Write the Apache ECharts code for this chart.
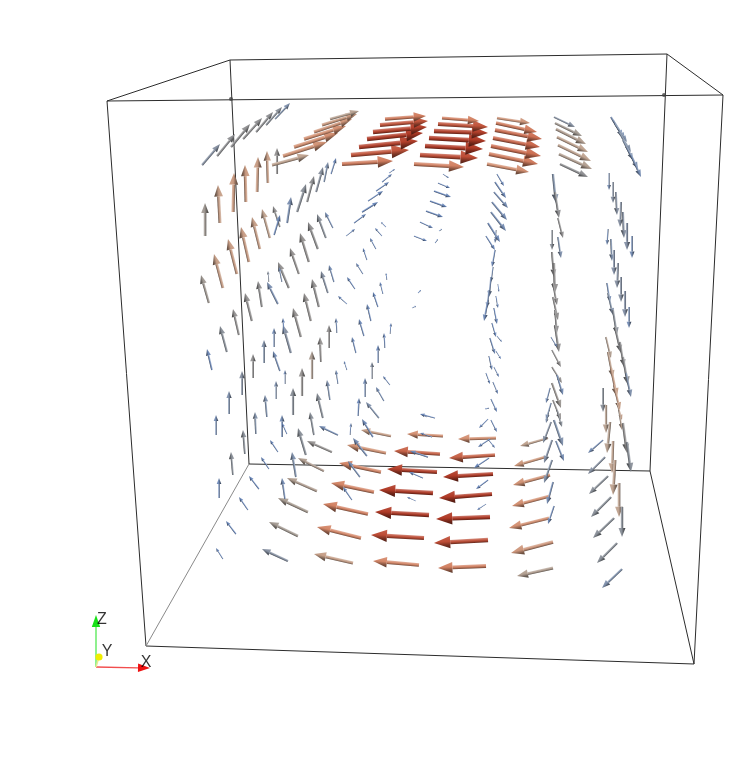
<!DOCTYPE html>
<html><head><meta charset="utf-8">
<style>html,body{margin:0;padding:0;background:#fff}#c{width:748px;height:763px}</style>
<script src="https://cdn.jsdelivr.net/npm/echarts@6/dist/echarts.min.js"></script>
</head><body><div id="c"></div>
<script>
// every glyph: [tailX, tailY, tipX, tipY, magnitude 0..1] (projected view units)
const topGreyRow=[[202,165,220,144,.08],[217,156,235,134,.12],[231,147,250,124,.13],[243,139,262,118,.13],[256,132,273,112,.12],[266,125,282,107,.1],[275,119,290,103,.05]];
const topTanRow=[[272,165,309,155,.33],[283,156,327,142,.48],[294,147,338,133,.5],[304,139,346,126,.5],[314,132,352,119,.46],[322,125,357,114,.42],[330,119,359,111,.3]];
const topRedColA=[[342,164,393,161,.6],[351,155,409,150,.8],[359,147,418,141,.95],[367,139,423,133,1],[373,132,427,127,.95],[380,125,428,121,.8],[385,119,426,116,.6]];
const topRedColB=[[414,164,464,167,.58],[420,155,478,158,.85],[425,146,483,149,1],[429,138,486,141,1],[434,131,488,133,.95],[438,124,488,127,.8],[442,118,479,121,.58]];
const topSalmonCol=[[487,164,529,172,.5],[489,154,538,164,.6],[491,146,541,156,.66],[493,138,540,147,.7],[495,130,542,139,.66],[496,123,537,132,.6],[497,118,530,123,.45]];
const topGreyCol=[[560,164,588,177,.12],[559,154,592,169,.28],[558,145,591,161,.33],[557,137,588,152,.33],[556,129,586,144,.28],[555,123,582,136,.22],[554,117,575,127,.08]];
const topBlueCol=[[611,117,623,137,.03],[613,120,625,139,.04],[615,124,627,142,.05],[619,132,631,152,.06],[623,140,633,160,.05],[627,148,638,169,.04],[631,155,641,177,.03]];
const leftWallA=[[205,236,205,203,.2],[220,223,218,185,.38],[233,212,234,173,.42],[246,202,245,165,.42],[257,192,258,157,.4],[268,183,267,151,.38],[277,174,277,148,.15]];
const leftWallB=[[209,303,201,275,.2],[223,288,214,254,.38],[237,274,228,239,.4],[249,262,241,227,.4],[260,249,252,217,.38],[270,238,262,209,.33],[280,227,273,206,.14],[274,235,280,215,.02],[287,223,291,197,.04],[297,212,306,184,.1],[307,202,314,176,.12],[316,192,323,167,.09],[324,182,328,162,.05],[331,174,336,158,.02]];
const leftWallC=[[333,228,325,212,.03],[326,238,317,214,.1],[318,249,308,222,.14],[309,262,300,233,.16],[299,274,290,248,.16],[289,288,278,262,.15],[282,282,279,267,.04],[278,304,267,282,.04],[269,282,268,271,.08],[262,307,258,281,.14],[252,321,245,293,.15],[239,335,233,309,.15],[227,352,220,326,.1],[212,370,207,349,.02]];
const leftWallD=[[328,293,321,271,.08],[334,282,329,265,.03],[319,307,312,279,.15],[311,321,304,293,.16],[301,337,293,308,.16],[291,353,283,325,.08],[280,371,273,351,.03],[253,378,253,354,.14],[264,363,264,340,.06],[274,347,274,328,.03],[284,333,283,318,.02],[242,395,242,371,.08],[229,414,229,391,.05]];
const midWallA=[[363,274,356,263,.02],[367,260,363,248,.01],[376,249,370,238,.01],[382,236,375,228,.01],[386,227,381,222,.005],[346,236,355,229,.01],[354,223,366,214,.01],[362,212,378,202,.01],[368,201,383,191,.01],[376,191,389,182,.01],[382,182,392,174,.01],[389,173,395,169,.005]];
const midWallB=[[355,289,347,277,.01],[347,304,338,296,.01],[329,348,329,325,.15],[337,333,336,318,.03],[321,362,320,337,.16],[312,379,312,351,.25],[302,396,302,368,.16],[293,415,293,388,.1],[276,399,276,381,.05],[285,384,285,370,.03],[267,417,265,395,.05],[323,418,317,393,.1],[330,400,327,380,.05],[338,384,336,370,.03],[347,370,344,361,.01]];
const midWallC=[[356,353,352,337,.02],[364,336,359,319,.02],[371,321,367,304,.02],[378,307,373,292,.01],[383,294,380,282,.01],[387,280,386,273,.005],[385,348,384,333,.02],[378,363,378,345,.02],[372,379,372,362,.08],[365,397,365,378,.03],[358,416,359,398,.02],[390,385,383,376,.01],[384,401,376,387,.03],[379,418,366,402,.05],[390,334,391,323,.005],[412,308,416,306,.002],[418,293,421,290,.002]];
const ceilingSmall=[[443,174,449,178,.005],[438,183,450,188,.01],[434,191,451,197,.01],[430,201,447,207,.01],[426,211,443,217,.01],[420,222,433,228,.01],[414,236,427,241,.01],[439,231,442,229,.002],[435,243,438,239,.002]];
const blueColTop=[[497,174,504,186,.01],[495,182,506,198,.02],[494,192,508,208,.03],[492,202,507,220,.03],[491,212,506,231,.03],[488,223,500,242,.02],[486,236,495,250,.01],[496,230,495,243,.03]];
const blueColMid=[[495,250,492,267,.02],[493,267,491,282,.03],[491,277,489,297,.03],[489,290,487,308,.03],[488,300,484,321,.02],[498,284,499,292,.005],[496,296,498,308,.01],[494,308,497,324,.01],[492,323,496,337,.01],[497,336,502,342,.005],[490,338,495,354,.02],[496,351,501,359,.005],[489,356,492,370,.02],[494,367,499,377,.01],[486,373,490,384,.01],[493,382,498,394,.02],[491,399,497,412,.01],[489,408,485,409,.005]];
const blueColLow=[[488,419,479,428,.01],[491,420,497,432,.01],[490,439,478,447,.01],[488,439,495,448,.01],[489,458,474,468,.01],[488,480,476,489,.005],[486,504,477,510,.003]];
const greyColA=[[553,174,556,203,.06],[555,192,559,218,.12],[558,218,563,238,.14],[552,230,552,250,.1],[558,237,561,258,.05],[552,252,554,277,.14],[554,263,555,293,.15],[553,283,557,305,.15],[553,297,558,320,.15],[555,310,557,333,.14],[555,325,559,352,.14]];
const greyColB=[[552,350,561,367,.15],[552,367,562,383,.16],[552,383,561,408,.18],[553,400,561,420,.16],[551,337,557,347,.02],[557,375,563,395,.03],[550,388,546,403,.03],[551,403,546,420,.04],[557,410,562,427,.1],[549,410,546,423,.05],[554,420,563,446,.05],[551,422,543,443,.08],[556,441,564,461,.03],[552,440,544,463,.07],[552,460,544,483,.06],[553,482,547,504,.03],[554,506,548,524,.02]];
const floorTanCol=[[548,438,520,446,.33],[545,457,514,466,.44],[550,475,513,485,.48],[550,496,512,506,.5],[549,518,509,528,.5],[553,542,511,553,.45],[553,568,517,576,.28]];
const floorRedColA=[[496,438,458,439,.5],[495,455,449,458,.72],[493,474,443,477,1],[492,494,439,498,1],[490,517,436,519,1],[488,540,434,543,.85],[486,566,438,568,.58]];
const floorRedColB=[[443,436,407,434,.5],[440,454,394,451,.72],[437,472,387,469,.95],[433,493,379,490,1],[429,515,375,512,1],[424,538,371,535,.85],[419,565,373,561,.55]];
const floorSalmonCol=[[391,436,361,430,.38],[386,453,347,445,.48],[381,472,339,463,.55],[374,492,331,483,.56],[368,514,323,504,.58],[361,538,317,527,.55],[353,563,314,554,.38]];
const floorGreyCol=[[338,435,319,426,.03],[332,452,307,441,.16],[324,471,298,458,.27],[317,491,287,478,.27],[308,512,278,498,.24],[298,536,269,522,.22],[288,561,262,549,.08]];
const overlayBlue=[[350,435,351,423,.02],[373,437,362,419,.02],[367,456,353,438,.03],[360,477,348,461,.03],[352,500,343,487,.01],[428,457,410,451,.02],[423,478,409,472,.01],[416,501,407,497,.005],[427,417,421,414,.01],[435,418,420,414,.01],[432,437,420,433,.02]];
const floorBlueLeft=[[216,435,216,415,.03],[245,454,243,430,.1],[233,475,231,452,.1],[219,498,219,478,.02],[256,434,255,412,.06],[282,437,282,415,.03],[287,434,282,423,.005],[278,452,270,440,.01],[269,469,261,457,.01],[259,489,249,476,.01],[248,510,239,497,.01],[236,534,226,521,.01],[223,559,216,548,.01],[314,435,310,412,.1],[306,455,298,428,.1],[296,477,292,452,.05],[285,499,282,478,.03]];
const rightColA=[[609,173,609,190,.04],[613,182,613,203,.08],[616,192,617,215,.08],[621,202,620,227,.08],[623,212,624,238,.08],[627,223,627,250,.07],[632,236,632,258,.03],[608,229,607,245,.03],[611,239,612,261,.05],[614,250,614,275,.07],[618,263,617,288,.08],[621,277,621,302,.08],[625,291,625,317,.07],[629,307,629,328,.03]];
const rightColB=[[607,283,610,302,.03],[608,293,613,315,.06],[613,310,617,335,.1],[615,327,621,353,.12],[620,342,624,367,.13],[623,357,628,385,.12],[626,373,631,397,.05]];
const rightColTan=[[606,337,611,358,.28],[608,352,613,378,.33],[611,368,617,397,.38],[614,385,620,410,.38],[617,403,622,420,.36],[603,388,603,412,.1],[606,405,606,433,.3],[610,422,607,453,.3],[613,441,612,473,.33],[615,460,613,495,.33],[619,483,619,517,.33],[622,507,622,537,.1],[619,410,622,430,.3],[623,423,627,453,.15],[627,442,631,472,.1]];
const floorGreyDiag=[[603,440,588,453,.03],[605,457,588,474,.08],[608,476,589,494,.1],[611,497,591,517,.1],[614,518,593,538,.1],[617,543,597,563,.1],[622,569,602,588,.05]];
const frameEdges=[[107,101,723,95],[723,95,694,664],[694,664,146,646],[146,646,107,101],[230,60,667,54],[667,54,650,471],[650,471,249,464],[249,464,230,60],[107,101,230,60],[723,95,667,54],[694,664,650,471]];
const frameEdgesFaint=[[146,646,249,464]];
const frameKnots=[[231,99],[664,95]];
const axisTriad=[[96,667,96,615,'#17e017'],[96,667,150,668,'#ee1111'],[96,667,99,657,'#e6e64d']];
const triadLabels=[['Z',102,620],['Y',107,652],['X',146,663]];

const glyphs=[].concat(leftWallD,leftWallC,midWallB,midWallC,midWallA,leftWallB,leftWallA,ceilingSmall,topGreyRow,topTanRow,topBlueCol,topGreyCol,topSalmonCol,topRedColB,topRedColA,
  rightColA,rightColB,greyColA,blueColTop,blueColMid,floorGreyCol,floorSalmonCol,floorRedColB,floorRedColA,floorTanCol,floorGreyDiag,rightColTan,greyColB,blueColLow,overlayBlue,floorBlueLeft);

const ramp=['#6484bc','#8091ac','#8e8f92','#a39a92','#bfa390','#c99a80','#d68e6e','#cc6f52','#bf5038','#b03a26'];
const rampAt=[0,.05,.12,.22,.33,.42,.52,.66,.82,1];
function colorOf(m){
  for(let i=1;i<rampAt.length;i++){ if(m<=rampAt[i]) return echarts.color.lerp((m-rampAt[i-1])/(rampAt[i]-rampAt[i-1]),[ramp[i-1],ramp[i]]); }
  return ramp[ramp.length-1];
}
function shade(c,k){return k>=0?echarts.color.lerp(k,[c,'#ffffff']):echarts.color.lerp(-k,[c,'#000000']);}
function renderGlyph(params,api){
  const a=api.coord([api.value(0),api.value(1)]), b=api.coord([api.value(2),api.value(3)]), m=api.value(4);
  const dx=b[0]-a[0], dy=b[1]-a[1], L=Math.hypot(dx,dy)||1, ux=dx/L, uy=dy/L;
  let nx=-uy, ny=ux; if(ny>0||(ny===0&&nx>0)){nx=-nx;ny=-ny;}
  const sw=Math.max(.4,L*.04), hw=Math.max(.9,L*.115), hl=L*.3;
  const n=[a[0]+ux*(L-hl),a[1]+uy*(L-hl)], c=colorOf(m);
  const grad=(w,s)=>new echarts.graphic.LinearGradient(n[0]+nx*w,n[1]+ny*w,n[0]-nx*w,n[1]-ny*w,s,true);
  const shaftStops=[{offset:0,color:shade(c,.35)},{offset:.45,color:shade(c,.05)},{offset:.75,color:shade(c,-.2)},{offset:1,color:shade(c,-.5)}];
  const headStops=[{offset:0,color:shade(c,.12)},{offset:.45,color:c},{offset:.72,color:shade(c,-.35)},{offset:1,color:shade(c,-.6)}];
  const sa=[a[0]+nx*sw,a[1]+ny*sw], sb=[a[0]-nx*sw,a[1]-ny*sw], ea=[n[0]+nx*sw,n[1]+ny*sw], eb=[n[0]-nx*sw,n[1]-ny*sw];
  return {type:'group',children:[
    {type:'polygon',shape:{points:[sa,ea,eb,sb]},style:{fill:grad(sw,shaftStops)}},
    {type:'polygon',shape:{points:[[n[0]+nx*hw,n[1]+ny*hw],b,[n[0]-nx*hw,n[1]-ny*hw]]},style:{fill:grad(hw,headStops)}}
  ]};
}
function renderEdge(color,width){return function(params,api){
  const p=api.coord([api.value(0),api.value(1)]), q=api.coord([api.value(2),api.value(3)]);
  return {type:'line',shape:{x1:p[0],y1:p[1],x2:q[0],y2:q[1]},style:{stroke:color,lineWidth:width}};
};}
function renderTriad(params,api){
  const p=api.coord([api.value(0),api.value(1)]), q=api.coord([api.value(2),api.value(3)]);
  const col=axisTriad[params.dataIndex][4];
  const dx=q[0]-p[0],dy=q[1]-p[1],L=Math.hypot(dx,dy),ux=dx/L,uy=dy/L;
  if(L<20){
    return {type:'group',children:[
      {type:'line',shape:{x1:p[0],y1:p[1],x2:q[0],y2:q[1]},style:{stroke:'#e8e890',lineWidth:1.5}},
      {type:'circle',shape:{cx:q[0],cy:q[1],r:3.6},style:{fill:'#f0ee00'}}
    ]};
  }
  const hl=12,hw=4.2,n=[q[0]-ux*hl,q[1]-uy*hl];
  return {type:'group',children:[
    {type:'line',shape:{x1:p[0],y1:p[1],x2:n[0],y2:n[1]},style:{stroke:col,lineWidth:1.3,opacity:.75}},
    {type:'polygon',shape:{points:[[n[0]-uy*hw,n[1]+ux*hw],q,[n[0]+uy*hw,n[1]-ux*hw]]},style:{fill:col}}
  ]};
}
const chart=echarts.init(document.getElementById('c'),null,{renderer:'canvas'});
const base={type:'custom',silent:true,clip:false,animation:false};
chart.setOption({
  animation:false,backgroundColor:'#fff',
  grid:{left:0,right:0,top:0,bottom:0},
  xAxis:{type:'value',min:0,max:748,show:false},
  yAxis:{type:'value',min:0,max:763,inverse:true,show:false},
  tooltip:{show:false},
  series:[
    Object.assign({},base,{name:'frame',data:frameEdges,renderItem:renderEdge('#2c2c2c',1)}),
    Object.assign({},base,{name:'frameFaint',data:frameEdgesFaint,renderItem:renderEdge('#8a8a8a',1)}),
    {type:'scatter',silent:true,data:frameKnots,symbolSize:4,itemStyle:{color:'#444'}},
    Object.assign({},base,{name:'velocity',data:glyphs,renderItem:renderGlyph,z:3}),
    Object.assign({},base,{name:'triad',data:axisTriad.map(r=>r.slice(0,4)),renderItem:renderTriad,z:4}),
    {type:'scatter',silent:true,symbolSize:0,z:5,data:triadLabels.map(r=>({value:[r[1],r[2]],label:{show:true,formatter:r[0],position:'inside',color:'#000',fontSize:16,fontFamily:'Liberation Sans'}}))}
  ]
});
</script></body></html>
